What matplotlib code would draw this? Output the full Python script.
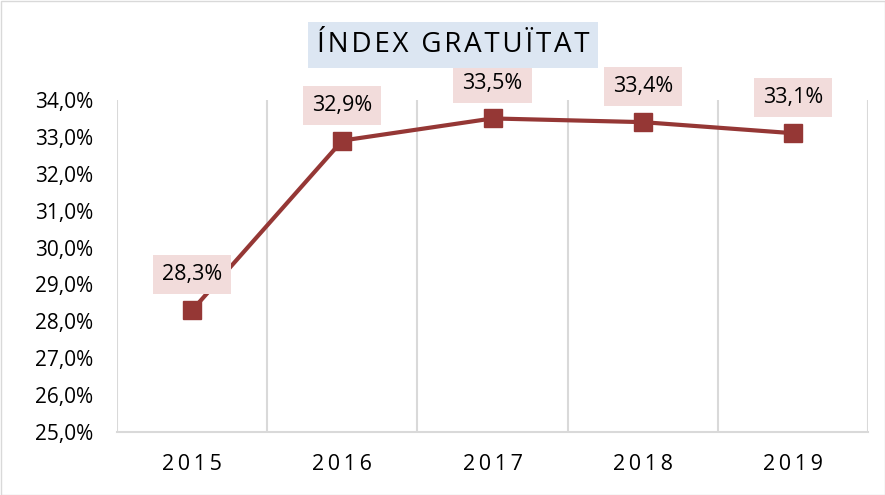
import matplotlib
matplotlib.use("Agg")
import matplotlib.pyplot as plt
from matplotlib.patches import Rectangle

# data
years = ["2015", "2016", "2017", "2018", "2019"]
index_values = [28.3, 32.9, 33.5, 33.4, 33.1]
y_ticks = [25, 26, 27, 28, 29, 30, 31, 32, 33, 34]

LINE = "#953735"
GRID = "#D9D9D9"
LABEL_BG = "#F2DCDB"
TITLE_BG = "#DCE6F2"
FONT = ["Open Sans", "DejaVu Sans"]


def spaced(s: str, sep: str = "\u200a") -> str:
    return sep.join(s)


fig = plt.figure(figsize=(8.85, 4.95), dpi=100)
ax = fig.add_axes([117 / 885, 63 / 495, 751 / 885, 332 / 495])

x = list(range(len(years)))
ax.plot(x, index_values, color=LINE, lw=3, marker="s", ms=12.5, zorder=3)

for xi, v in zip(x, index_values):
    ax.annotate(f"{v:.1f}%".replace(".", ","), (xi, v), xytext=(0, 25.5),
                textcoords="offset points", ha="center", va="center",
                fontsize=15.5, family=FONT, color="#000000",
                bbox=dict(boxstyle="square,pad=0.42", fc=LABEL_BG, ec="none"),
                zorder=4)

ax.set_xlim(-0.5, len(years) - 0.5)
ax.set_ylim(25, 34)
ax.set_yticks(y_ticks)
ax.set_yticklabels([f"{t:.1f}%".replace(".", ",") for t in y_ticks],
                   fontsize=15, family=FONT)
ax.set_xticks(x)
ax.set_xticklabels([spaced(y, "\u2009") for y in years], fontsize=15.5, family=FONT)
ax.tick_params(axis="both", length=0)
ax.tick_params(axis="y", pad=17)
ax.tick_params(axis="x", pad=16)

for b in [i - 0.5 for i in range(len(years) + 1)]:
    ax.axvline(b, color=GRID, lw=1.5, zorder=1)

for s in ["top", "right", "left"]:
    ax.spines[s].set_visible(False)
ax.spines["bottom"].set_color(GRID)
ax.spines["bottom"].set_linewidth(1.5)

fig.text(453 / 885, 1 - 45 / 495, spaced("ÍNDEX GRATUÏTAT").replace("\u200a\u200a\u200a", "\u2002"),
         ha="center", va="center", fontsize=20, family=FONT,
         bbox=dict(boxstyle="square,pad=0.33", fc=TITLE_BG, ec="none"))

fig.patches.append(Rectangle((0.5 / 885, 0.5 / 495), 884 / 885, 494 / 495,
                             transform=fig.transFigure, fill=False,
                             ec="#D9D9D9", lw=1))

fig.savefig("out.png", dpi=100)
